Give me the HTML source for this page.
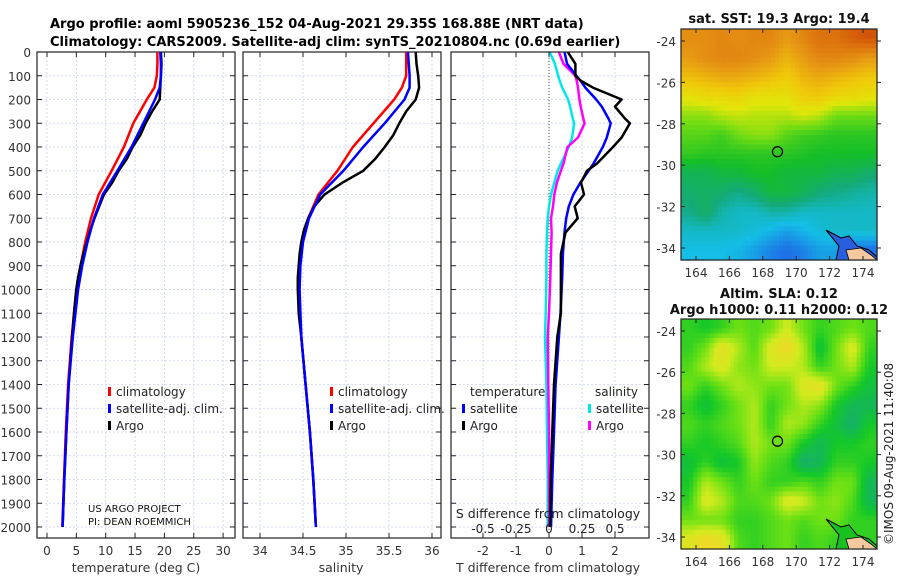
<!DOCTYPE html>
<html><head><meta charset="utf-8"><style>
html,body{margin:0;padding:0;background:#fff;width:900px;height:580px;overflow:hidden}
svg{display:block;font-family:"DejaVu Sans","Liberation Sans",sans-serif}
</style></head><body>
<svg id="fig" width="900" height="580" viewBox="0 0 900 580">
<text x="50" y="28" font-size="13" font-weight="bold">Argo profile: aoml 5905236_152 04-Aug-2021 29.35S 168.88E (NRT data)</text>
<text x="50" y="46" font-size="13" font-weight="bold">Climatology: CARS2009. Satellite-adj clim: synTS_20210804.nc (0.69d earlier)</text>
<g id="panels"></g>
<g id="maps"></g>
<text transform="translate(893,545) rotate(-90)" font-size="12" fill="#222">©IMOS 09-Aug-2021 11:40:08</text>
</svg>
<script>
// ---- data ----
const depthTicks=[0,100,200,300,400,500,600,700,800,900,1000,1100,1200,1300,1400,1500,1600,1700,1800,1900,2000];
const tempTicks=[0,5,10,15,20,25,30];
const salTicks=[34,34.5,35,35.5,36];
const tdiffTicks=[-2,-1,0,1,2];
const sdiffTicks=[-0.5,-0.25,0,0.25,0.5];
const sdiffTickLabels=["-0.5","-0.25","0","0.25","0.5"];
const depthsClim=[0,50,100,150,200,300,400,500,600,700,800,900,1000,1200,1400,1600,1800,2000];
const tempClim=[18.8,18.8,18.7,18.3,17.0,14.7,13.1,11.0,8.8,7.5,6.5,5.7,5.0,4.2,3.6,3.2,2.9,2.6];
const tempSat=[19.3,19.4,19.4,19.2,18.4,16.4,14.4,12.0,9.5,8.0,6.9,6.0,5.3,4.4,3.7,3.3,2.95,2.65];
const depthsArgo=[0,50,100,150,200,250,300,350,400,450,500,550,600,650,700,750,800,850,900,950,1000,1100,1200,1400,1600,1800,2000];
const tempArgo=[19.4,19.5,19.4,19.3,19.2,17.9,16.8,15.9,14.6,13.6,12.2,11.1,9.7,8.9,8.1,7.4,6.8,6.2,5.7,5.3,5.0,4.6,4.3,3.7,3.3,2.95,2.65];
const salClim=[35.70,35.70,35.70,35.65,35.56,35.32,35.08,34.90,34.68,34.56,34.49,34.46,34.45,34.48,34.53,34.58,34.62,34.65];
const salSat=[35.72,35.73,35.74,35.74,35.68,35.45,35.20,34.97,34.70,34.57,34.50,34.47,34.46,34.48,34.53,34.58,34.62,34.65];
const salArgo=[35.81,35.82,35.84,35.85,35.81,35.70,35.62,35.55,35.45,35.34,35.20,34.96,34.75,34.63,34.56,34.51,34.48,34.46,34.45,34.44,34.44,34.45,34.48,34.53,34.58,34.62,34.65];
const depthsDiff=[0,50,100,120,150,200,230,280,300,360,400,470,500,550,600,650,700,760,850,950,1100,1200,1400,1600,1800,2000];
const tdiffArgo=[0.57,0.8,0.8,0.95,1.33,2.2,2.0,2.3,2.45,2.2,1.94,1.45,1.15,0.97,1.06,0.78,0.87,0.5,0.36,0.36,0.36,0.25,0.15,0.1,0.05,0.03];
const tdiffSat=[0.47,0.55,0.83,0.95,1.1,1.43,1.6,1.8,1.87,1.75,1.63,1.35,1.2,0.95,0.74,0.6,0.52,0.47,0.42,0.4,0.35,0.3,0.2,0.15,0.1,0.06];
const sdiffSat=[0.005,0.045,0.07,0.08,0.1,0.145,0.16,0.18,0.19,0.175,0.15,0.09,0.065,0.04,0.015,0.0,-0.01,-0.015,-0.02,-0.02,-0.025,-0.03,-0.02,-0.015,-0.01,-0.01];
const sdiffArgo=[0.075,0.11,0.2,0.21,0.22,0.23,0.24,0.26,0.27,0.22,0.14,0.11,0.09,0.06,0.04,0.03,0.015,0.02,0.015,0.01,0.0,-0.01,-0.005,0.0,0.0,0.0];
const sstGrid=[
[.78,.78,.80,.78,.80,.80,.75,.80,.85,.85,.90,.92],
[.75,.78,.80,.80,.78,.75,.70,.75,.80,.80,.78,.75],
[.68,.70,.72,.72,.70,.68,.65,.70,.72,.70,.68,.66],
[.60,.62,.62,.63,.60,.60,.60,.65,.66,.62,.62,.60],
[.52,.52,.55,.56,.55,.55,.55,.57,.55,.50,.50,.50],
[.48,.48,.46,.50,.52,.52,.48,.46,.45,.44,.44,.44],
[.45,.44,.44,.44,.44,.44,.44,.43,.42,.42,.42,.42],
[.38,.38,.40,.40,.42,.42,.40,.40,.40,.38,.38,.36],
[.36,.37,.36,.34,.36,.40,.40,.38,.35,.34,.33,.32],
[.34,.37,.32,.30,.30,.32,.32,.30,.30,.30,.30,.30],
[.30,.30,.30,.30,.29,.27,.25,.27,.29,.30,.30,.30],
[.28,.28,.28,.27,.25,.22,.20,.22,.25,.25,.20,.20]];
const slaGrid=[
[.50,.45,.50,.60,.55,.60,.75,.60,.50,.55,.60,.55],
[.50,.60,.85,.70,.55,.80,.90,.70,.40,.60,.80,.50],
[.55,.70,.80,.65,.60,.75,.75,.70,.50,.60,.70,.45],
[.60,.50,.60,.70,.65,.60,.60,.80,.85,.60,.50,.40],
[.50,.40,.50,.60,.70,.50,.60,.70,.65,.45,.35,.35],
[.55,.50,.55,.60,.70,.50,.70,.65,.50,.40,.30,.45],
[.50,.45,.50,.55,.70,.60,.60,.45,.35,.45,.45,.50],
[.40,.50,.40,.45,.65,.55,.50,.30,.35,.50,.50,.45],
[.45,.70,.60,.50,.60,.50,.50,.55,.50,.60,.60,.35],
[.50,.80,.70,.55,.55,.60,.80,.75,.60,.65,.55,.35],
[.60,.60,.60,.50,.50,.55,.60,.55,.60,.60,.50,.50],
[.80,.90,.85,.55,.50,.55,.60,.50,.55,.50,.50,.50]];
const lonTicks=[164,166,168,170,172,174];
const latTicks=[-24,-26,-28,-30,-32,-34];
const floatLon=168.88, floatLat=-29.35;

const NS="http://www.w3.org/2000/svg";
function mk(tag,attrs,parent){const e=document.createElementNS(NS,tag);for(const k in attrs)e.setAttribute(k,attrs[k]);parent.appendChild(e);return e;}
const panels=document.getElementById('panels');
const yD=d=>52+d*0.2375;
function panel(name){
  const g=mk('g',{},panels);
  
  
  return g;
}
function grid(g,x0,x1,xs){
  depthTicks.forEach(d=>{mk('line',{x1:x0,x2:x1,y1:yD(d),y2:yD(d),stroke:'#c8cff0','stroke-width':0.8,'stroke-dasharray':'2,2'},g);});
  xs.forEach(x=>{mk('line',{x1:x,x2:x,y1:52,y2:538,stroke:'#c8cff0','stroke-width':0.8,'stroke-dasharray':'2,2'},g);});
}
function frame(g,x0,x1,xticks){
  mk('rect',{x:x0,y:52,width:x1-x0,height:486,fill:'none',stroke:'#222','stroke-width':1.2},g);
  depthTicks.forEach(d=>{mk('line',{x1:x0,x2:x0+5,y1:yD(d),y2:yD(d),stroke:'#222'},g);mk('line',{x1:x1-5,x2:x1,y1:yD(d),y2:yD(d),stroke:'#222'},g);});
  xticks.forEach(x=>{mk('line',{x1:x,x2:x,y1:538,y2:533,stroke:'#222'},g);mk('line',{x1:x,x2:x,y1:52,y2:57,stroke:'#222'},g);});
}
function line(g,xs,ds,sx,color,w,name){
  const pts=xs.map((v,i)=>sx(v).toFixed(1)+','+yD(ds[i]).toFixed(1)).join(' ');
  const p=mk('polyline',{points:pts,fill:'none',stroke:color,'stroke-width':w,'stroke-linejoin':'round'},g);
  
  
}
function txt(g,x,y,s,size,anchor,name,fill){const t=mk('text',{x:x,y:y,'font-size':size,'text-anchor':anchor||'start',fill:fill||'#333'},g);t.textContent=s;return t;}
function legend(g,x,y,color,label,name){mk('rect',{x:x,y:y-9,width:3,height:9,fill:color},g);txt(g,x+8,y,label,12,'start',name,'#222');}

// Panel 1 temperature
const sT=v=>47+v*5.87;
let g=panel('temperature-panel');
grid(g,37,235,tempTicks.map(sT));
frame(g,37,235,tempTicks.map(sT));
depthTicks.forEach(d=>txt(g,31,yD(d)+5,String(d),12,'end','depth-tick-label','#333'));
tempTicks.forEach(v=>txt(g,sT(v),555,String(v),12,'middle','temp-tick-label'));
txt(g,136,572,'temperature (deg C)',12.5,'middle','temp-axis-title');
line(g,tempClim,depthsClim,sT,'#ff0000',2.5,'temp-climatology-line');
line(g,tempArgo,depthsArgo,sT,'#000',2.5,'temp-argo-line');
line(g,tempSat,depthsClim,sT,'#0000ff',2.5,'temp-satellite-line');
legend(g,108,396,'#f00','climatology','legend-climatology');
legend(g,108,413,'#00f','satellite-adj. clim.','legend-satellite');
legend(g,108,430,'#000','Argo','legend-argo');
txt(g,88,512,'US ARGO PROJECT',10,'start','project-label','#111');
txt(g,88,525,'PI: DEAN ROEMMICH',10,'start','pi-label','#111');

// Panel 2 salinity
const sS=v=>260+(v-34)*86;
g=panel('salinity-panel');
grid(g,243,441,salTicks.map(sS));
frame(g,243,441,salTicks.map(sS));
salTicks.forEach(v=>txt(g,sS(v),555,String(v),12,'middle','sal-tick-label'));
txt(g,341,572,'salinity',12.5,'middle','sal-axis-title');
line(g,salClim,depthsClim,sS,'#ff0000',2.5,'sal-climatology-line');
line(g,salArgo,depthsArgo,sS,'#000',2.5,'sal-argo-line');
line(g,salSat,depthsClim,sS,'#0000ff',2.5,'sal-satellite-line');
legend(g,330,396,'#f00','climatology','legend-climatology-2');
legend(g,330,413,'#00f','satellite-adj. clim.','legend-satellite-2');
legend(g,330,430,'#000','Argo','legend-argo-2');

// Panel 3 differences
const sTd=v=>549+v*33;
const sSd=v=>549+v*132;
g=panel('difference-panel');
grid(g,451,649,tdiffTicks.map(sTd));
mk('line',{x1:549,x2:549,y1:52,y2:538,stroke:'#4a5a2a','stroke-width':1,'stroke-dasharray':'1,2'},g);
line(g,sdiffSat,depthsDiff,sSd,'#00e8e8',2.5,'sdiff-satellite-line');
line(g,sdiffArgo,depthsDiff,sSd,'#ff00ff',2.5,'sdiff-argo-line');
line(g,tdiffSat,depthsDiff,sTd,'#0000ff',2.5,'tdiff-satellite-line');
line(g,tdiffArgo,depthsDiff,sTd,'#000',2.5,'tdiff-argo-line');
frame(g,451,649,tdiffTicks.map(sTd));
tdiffTicks.forEach(v=>txt(g,sTd(v),555,String(v),12,'middle','tdiff-tick-label'));
sdiffTicks.forEach((v,i)=>txt(g,sSd(v),533,sdiffTickLabels[i],12,'middle','sdiff-tick-label','#222'));
txt(g,548,518,'S difference from climatology',12.5,'middle','sdiff-axis-title','#222');
txt(g,548,572,'T difference from climatology',12.5,'middle','tdiff-axis-title');
txt(g,470,396,'temperature',12,'start','legend-temperature-header','#222');
txt(g,595,396,'salinity',12,'start','legend-salinity-header','#222');
legend(g,462,413,'#00f','satellite','legend-t-satellite');
legend(g,462,430,'#000','Argo','legend-t-argo');
legend(g,588,413,'#00e8e8','satellite','legend-s-satellite');
legend(g,588,430,'#ff00ff','Argo','legend-s-argo');

// ---- maps ----
const maps=document.getElementById('maps');
function lerpCol(stops,v){
  if(v<=stops[0][0])return stops[0][1];
  for(let i=1;i<stops.length;i++){if(v<=stops[i][0]){const a=stops[i-1],b=stops[i];const t=(v-a[0])/(b[0]-a[0]);
    return a[1].map((x,k)=>Math.round(x+(b[1][k]-x)*t));}}
  return stops[stops.length-1][1];
}
const sstStops=[[0.2,[30,110,230]],[0.28,[20,190,230]],[0.35,[20,170,120]],[0.42,[20,190,40]],[0.5,[110,220,20]],[0.58,[225,230,10]],[0.66,[240,200,10]],[0.76,[230,150,20]],[0.9,[215,95,10]],[1,[190,40,10]]];
const slaStops=[[0.3,[20,175,110]],[0.45,[20,200,40]],[0.6,[110,225,20]],[0.75,[210,235,30]],[0.9,[240,215,40]],[1,[240,190,50]]];
function drawMap(y0,y1,gridv,stops,name,t1,t2){
  const x0=681,x1=877;
  const g=mk('g',{},maps);
  
  
  const lonX=l=>696+(l-164)*16.7;
  const latY=la=>(y0+12)+(-24-la)*((y1-y0-24)/10);
  const nr=gridv.length,nc=gridv[0].length;
  const cw=(x1-x0)/nc,ch=(y1-y0)/nr;
  const sub=4;
  for(let r=0;r<nr*sub;r++)for(let c=0;c<nc*sub;c++){
    const fr=Math.min(nr-1,Math.max(0,(r+0.5)/sub-0.5)),fc=Math.min(nc-1,Math.max(0,(c+0.5)/sub-0.5));
    const r0=Math.floor(fr),c0=Math.floor(fc),r1=Math.min(nr-1,r0+1),c1=Math.min(nc-1,c0+1);
    const tr=fr-r0,tc=fc-c0;
    const v=(gridv[r0][c0]*(1-tc)+gridv[r0][c1]*tc)*(1-tr)+(gridv[r1][c0]*(1-tc)+gridv[r1][c1]*tc)*tr;
    const col=lerpCol(stops,v);
    mk('rect',{x:(x0+c*cw/sub).toFixed(2),y:(y0+r*ch/sub).toFixed(2),width:(cw/sub+0.6).toFixed(2),height:(ch/sub+0.6).toFixed(2),fill:'rgb('+col.join(',')+')'},g);
  }
  mk('path',{d:`M${x0+145},${y1-30} L${x0+160},${y1-22} L${x0+168},${y1-24} L${x0+176},${y1-14} L${x0+188},${y1-10} L${x0+196},${y1-3} L${x0+196},${y1} L${x0+155},${y1} L${x0+158},${y1-14} Z`,fill:name==='sst-map'?'#2a5ee0':'#18c020',stroke:'#000','stroke-width':1},g);
  mk('path',{d:`M${x0+165},${y1-10} L${x0+180},${y1-12} L${x0+190},${y1-5} L${x0+196},${y1} L${x0+168},${y1} Z`,fill:'#f5c8a0',stroke:'#000','stroke-width':0.8},g);
  const c=mk('circle',{cx:lonX(floatLon),cy:latY(floatLat),r:5,fill:'none',stroke:'#000','stroke-width':1.3},g);
  
  
  mk('rect',{x:x0,y:y0,width:x1-x0,height:y1-y0,fill:'none',stroke:'#222','stroke-width':1.2},g);
  lonTicks.forEach(l=>{const x=lonX(l);mk('line',{x1:x,x2:x,y1:y1,y2:y1-4,stroke:'#222'},g);mk('line',{x1:x,x2:x,y1:y0,y2:y0+4,stroke:'#222'},g);txt(g,x,y1+17,String(l),12,'middle','lon-tick-label');});
  latTicks.forEach(la=>{const y=latY(la);mk('line',{x1:x0,x2:x0+4,y1:y,y2:y,stroke:'#222'},g);mk('line',{x1:x1,x2:x1+4,y1:y,y2:y,stroke:'#222'},g);txt(g,x0-5,y+5,String(la),12,'end','lat-tick-label');});
  if(t2){txt(g,779,y0-21,t1,13,'middle','map-title','#111').setAttribute('font-weight','bold');txt(g,779,y0-5,t2,13,'middle','map-subtitle','#111').setAttribute('font-weight','bold');}
  else txt(g,779,y0-6,t1,13,'middle','map-title','#111').setAttribute('font-weight','bold');
}
drawMap(29,260,sstGrid,sstStops,'sst-map','sat. SST: 19.3 Argo: 19.4');
drawMap(319,549,slaGrid,slaStops,'sla-map','Altim. SLA: 0.12','Argo h1000: 0.11 h2000: 0.12');
</script>
</body></html>
